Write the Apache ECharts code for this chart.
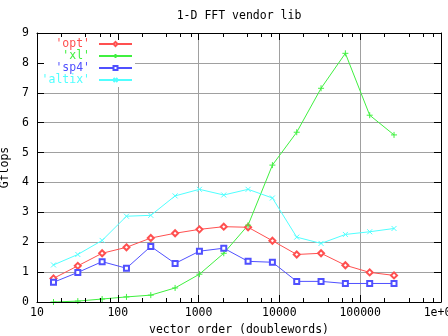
<!DOCTYPE html>
<html><head><meta charset="utf-8">
<script src="https://cdn.jsdelivr.net/npm/echarts@6/dist/echarts.min.js"></script>
<style>html,body{margin:0;padding:0;background:#fff}#c{width:448px;height:336px}</style>
</head><body><div id="c"></div>
<script>
const xValues = [16, 32, 64, 128, 256, 512, 1024, 2048, 4096, 8192, 16384, 32768, 65536, 131072, 262144];
const optValues = [0.79, 1.21, 1.63, 1.83, 2.14, 2.30, 2.43, 2.52, 2.50, 2.05, 1.59, 1.63, 1.23, 0.99, 0.89];
const xlValues = [0.00, 0.03, 0.10, 0.17, 0.23, 0.47, 0.93, 1.63, 2.57, 4.58, 5.68, 7.15, 8.32, 6.25, 5.59];
const sp4Values = [0.66, 0.99, 1.35, 1.13, 1.86, 1.29, 1.70, 1.80, 1.36, 1.33, 0.69, 0.69, 0.62, 0.62, 0.62];
const altixValues = [1.24, 1.59, 2.06, 2.87, 2.90, 3.55, 3.77, 3.58, 3.77, 3.48, 2.17, 1.96, 2.26, 2.35, 2.46];
const seriesNames = ["'opt'", "'xl'", "'sp4'", "'altix'"];
const xTickLabels = {10: '10', 100: '100', 1000: '1000', 10000: '10000', 100000: '100000', 1000000: '1e+06'};
const xMinorTicks = [20, 40, 60, 80, 200, 400, 600, 800, 2000, 4000, 6000, 8000, 20000, 40000, 60000, 80000, 200000, 400000, 600000, 800000];
const yTickLabels = ['0', '1', '2', '3', '4', '5', '6', '7', '8', '9'];

const FONT = '"DejaVu Sans Mono", "Liberation Mono", monospace';
const FS = 11.5;
const colors = ['#ff5050', '#40f040', '#5050ff', '#50ffff'];
const symbols = ['emptyDiamond', 'path://M0,5H10M5,0V10', 'emptyRect', 'path://M0,0L10,10M10,0L0,10'];
const sizes = [6, 6, 5, 5];
const allValues = [optValues, xlValues, sp4Values, altixValues];

function mk(i) {
  const c = colors[i];
  return {
    name: seriesNames[i], type: 'line',
    data: xValues.map((x, k) => [x, allValues[i][k]]),
    xAxisIndex: 0, yAxisIndex: 0,
    symbol: symbols[i], symbolSize: sizes[i], showSymbol: true, symbolKeepAspect: true,
    lineStyle: {color: c, width: 1},
    itemStyle: {color: c, borderColor: c, borderWidth: 1},
    emphasis: {disabled: true}, clip: false, z: 2
  };
}

const tickAxisCommon = {
  min: 10, max: 1000000, logBase: 10, type: 'log',
  axisLabel: {show: false}, splitLine: {show: false}, z: 6
};
const chart = echarts.init(document.getElementById('c'), null, {renderer: 'canvas'});
chart.setOption({
  animation: false,
  backgroundColor: '#fff',
  grid: {left: 37, right: 7, top: 33, bottom: 34, containLabel: false, outerBoundsMode: 'none'},
  graphic: [{
    type: 'text', x: 239, y: 16, z: 10,
    style: {text: '1-D FFT vendor lib', align: 'center', verticalAlign: 'middle', font: FS + 'px ' + FONT, fill: '#000'}
  }],
  legend: {
    orient: 'vertical', align: 'right', right: 313, top: 34,
    padding: [4, 2, 1, 5], itemGap: 0, itemWidth: 33, itemHeight: 5,
    backgroundColor: '#fff', selectedMode: false, z: 4,
    textStyle: {fontFamily: FONT, fontSize: FS, lineHeight: 11, padding: [0, 4, 0, 0]},
    data: seriesNames.map((n, i) => ({name: n, textStyle: {color: colors[i]}}))
  },
  xAxis: [
    {type: 'log', logBase: 10, min: 10, max: 1000000, position: 'bottom', z: 0,
     axisLine: {show: false}, axisTick: {show: false},
     splitLine: {show: true, lineStyle: {color: '#a0a0a0', width: 1}},
     axisLabel: {show: true, margin: 5, color: '#000', fontFamily: FONT, fontSize: FS,
       showMinLabel: true, showMaxLabel: true, hideOverlap: false,
       formatter: v => xTickLabels[Math.round(v)] !== undefined ? xTickLabels[Math.round(v)] : ''},
     name: 'vector order (doublewords)', nameLocation: 'middle', nameGap: 21,
     nameTextStyle: {color: '#000', fontFamily: FONT, fontSize: FS}},
    Object.assign({}, tickAxisCommon, {position: 'bottom',
      axisLine: {show: true, lineStyle: {color: '#000', width: 1}},
      axisTick: {show: true, inside: true, length: 7, lineStyle: {color: '#000', width: 1}}}),
    Object.assign({}, tickAxisCommon, {position: 'bottom',
      axisLine: {show: false},
      axisTick: {show: true, inside: true, length: 4, customValues: xMinorTicks, lineStyle: {color: '#000', width: 1}}}),
    Object.assign({}, tickAxisCommon, {position: 'top',
      axisLine: {show: true, lineStyle: {color: '#000', width: 1}},
      axisTick: {show: true, inside: true, length: 7, lineStyle: {color: '#000', width: 1}}}),
    Object.assign({}, tickAxisCommon, {position: 'top',
      axisLine: {show: false},
      axisTick: {show: true, inside: true, length: 4, customValues: xMinorTicks, lineStyle: {color: '#000', width: 1}}})
  ],
  yAxis: [
    {type: 'value', min: 0, max: 9, interval: 1, position: 'left', z: 0,
     axisLine: {show: false}, axisTick: {show: false},
     splitLine: {show: true, lineStyle: {color: '#a0a0a0', width: 1}},
     axisLabel: {show: true, margin: 8, color: '#000', fontFamily: FONT, fontSize: FS,
       formatter: (v) => yTickLabels[Math.round(v)]},
     name: 'Gflops', nameLocation: 'middle', nameGap: 20,
     nameTextStyle: {color: '#000', fontFamily: FONT, fontSize: FS}},
    {type: 'value', min: 0, max: 9, interval: 1, position: 'left', z: 6,
     axisLine: {show: true, lineStyle: {color: '#000', width: 1}},
     axisTick: {show: true, inside: true, length: 7, lineStyle: {color: '#000', width: 1}},
     axisLabel: {show: false}, splitLine: {show: false}},
    {type: 'value', min: 0, max: 9, interval: 1, position: 'right', z: 6,
     axisLine: {show: true, lineStyle: {color: '#000', width: 1}},
     axisTick: {show: true, inside: true, length: 7, lineStyle: {color: '#000', width: 1}},
     axisLabel: {show: false}, splitLine: {show: false}}
  ],
  series: [mk(0), mk(1), mk(2), mk(3)]
});
</script>
</body></html>
